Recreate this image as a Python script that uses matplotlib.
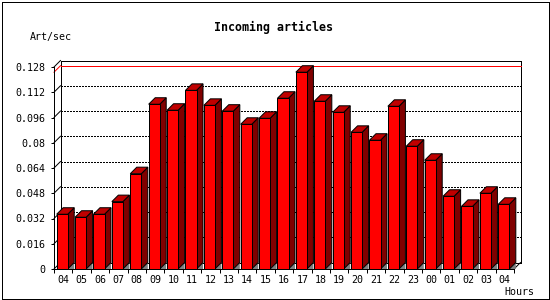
import numpy as np
import matplotlib
matplotlib.use('Agg')
import matplotlib.pyplot as plt
from matplotlib.patches import Polygon, Rectangle

# Incoming articles per hour (art/sec)
hours = ['04', '05', '06', '07', '08', '09', '10', '11', '12', '13', '14', '15',
         '16', '17', '18', '19', '20', '21', '22', '23', '00', '01', '02', '03', '04']
rates = [0.0347, 0.0328, 0.0347, 0.0427, 0.0604, 0.1044, 0.1006, 0.1132,
         0.1037, 0.1000, 0.0917, 0.0955, 0.1082, 0.1247, 0.1063, 0.0993,
         0.0866, 0.0816, 0.1031, 0.0778, 0.0689, 0.0461, 0.0397, 0.0480, 0.0410]
yticks = [0, 0.016, 0.032, 0.048, 0.064, 0.08, 0.096, 0.112, 0.128]
yticklabels = ['0', '0.016', '0.032', '0.048', '0.064', '0.08', '0.096', '0.112', '0.128']

W, H = 550, 300
PX = 0.72   # one pixel in points at 100 dpi
mono = 'DejaVu Sans Mono'

fig = plt.figure(figsize=(W / 100, H / 100), dpi=100)
fig.patch.set_facecolor('white')

# front plane of the plot: x 54..514 px, y 269..67 px
left, right, bottom, top = 54, 514, 269, 67
ax = fig.add_axes([left / W, (H - bottom) / H, (right - left) / W, (bottom - top) / H])
n = len(rates)
ymax = yticks[-1]
ax.set_xlim(0, n)
ax.set_ylim(0, ymax)

# 3d depth in data units (about 6.5 px)
depth_px = 6.5
dx = depth_px / ((right - left) / n)
dy = depth_px * ymax / (bottom - top)

lw = PX
thin = 0.6
for s in ['top', 'right']:
    ax.spines[s].set_visible(False)
for s in ['left', 'bottom']:
    ax.spines[s].set_linewidth(thin)
    ax.spines[s].set_antialiased(False)

crisp = dict(color='black', lw=thin, clip_on=False, antialiased=False)
diag = dict(color='black', lw=lw, clip_on=False)

# back grid (dotted) and diagonal stubs
for y in yticks[1:-1]:
    ax.plot([dx, n + dx], [y + dy, y + dy], ls=(0, (2.4, 2.4)), zorder=1, **crisp)
    ax.plot([0, dx], [y, y + dy], zorder=1, **diag)

# max marker
vmax = max(rates)
ax.plot([0, dx], [vmax, vmax + dy], color='red', lw=lw, clip_on=False, zorder=1.5)
ax.plot([dx, n + dx], [vmax + dy, vmax + dy], color='red', lw=thin,
        clip_on=False, zorder=1.5, antialiased=False)

# back frame
ax.plot([dx, dx, n + dx, n + dx, dx], [dy, ymax + dy, ymax + dy, dy, dy], zorder=1.2, **crisp)
ax.plot([0, dx], [ymax, ymax + dy], zorder=1.2, **diag)
ax.plot([0, dx], [0, dy], zorder=1.2, **diag)
ax.plot([n, n + dx], [0, dy], zorder=1.2, **diag)

# 3d bars
off, bw = 0.145, 0.6
for i, v in enumerate(rates):
    x0 = i + off
    x1 = x0 + bw
    kw = dict(edgecolor='black', lw=lw, clip_on=False, zorder=3)
    ax.add_patch(Polygon([(x1, 0), (x1 + dx, dy), (x1 + dx, 0)],
                         closed=True, facecolor='#808080', edgecolor='none',
                         clip_on=False, zorder=2.5))
    ax.add_patch(Polygon([(x1, 0), (x1, v), (x1 + dx, v + dy), (x1 + dx, dy)],
                         closed=True, facecolor='#800000', **kw))
    ax.add_patch(Polygon([(x0, v), (x0 + dx, v + dy), (x1 + dx, v + dy), (x1, v)],
                         closed=True, facecolor='#c00000', **kw))
    ax.add_patch(Rectangle((x0, 0), bw, v, facecolor='#ff0000', **kw))

# ticks
ax.set_yticks(yticks)
ax.set_yticklabels(yticklabels, fontfamily=mono, fontsize=7.2)
ax.tick_params(axis='y', direction='out', length=3 * PX, width=lw, pad=4)
ax.set_xticks(np.arange(n) + 0.5)
ax.set_xticklabels(hours, fontfamily=mono, fontsize=7.2)
ax.set_xticks(np.arange(n + 1), minor=True)
ax.tick_params(axis='x', which='major', length=0, pad=4.5)
ax.tick_params(axis='x', which='minor', direction='out', length=4 * PX, width=lw)
ax.patch.set_alpha(0)

# texts
fig.text(274 / W, 1 - 27.5 / H, 'Incoming articles', ha='center', va='center',
         fontfamily=mono, fontweight='bold', fontsize=8.4)
fig.text(30 / W, 1 - 37 / H, 'Art/sec', ha='left', va='center',
         fontfamily=mono, fontsize=7.2)
fig.text(534 / W, 1 - 292 / H, 'Hours', ha='right', va='center',
         fontfamily=mono, fontsize=7.2)

# outer border
fig.add_artist(Rectangle((1.5 / W, 1.5 / H), 1 - 3 / W, 1 - 3 / H,
                         transform=fig.transFigure, fill=False,
                         edgecolor='black', lw=thin, antialiased=False))

fig.savefig('out.png', dpi=100)
